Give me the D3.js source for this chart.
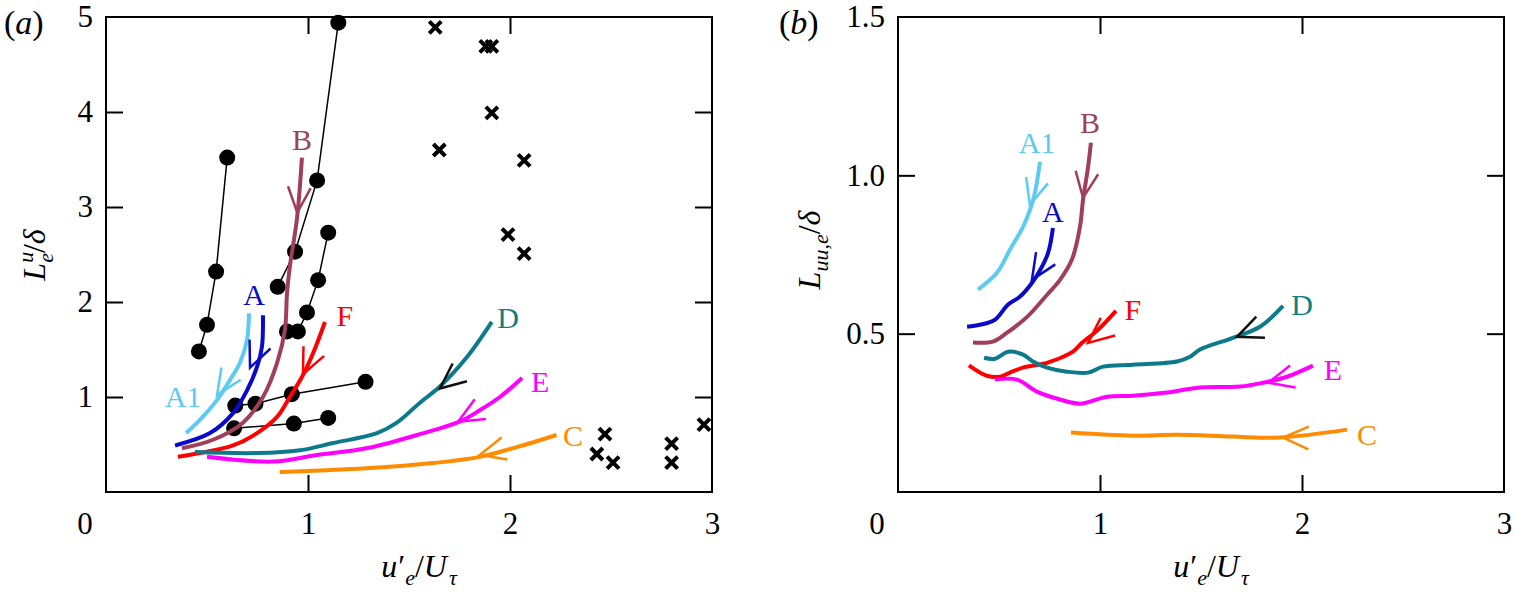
<!DOCTYPE html>
<html>
<head>
<meta charset="utf-8">
<script src="https://cdn.jsdelivr.net/npm/d3@7"></script>
<style>
  body { margin: 0; background: #fff; }
  svg text { font-family: "Liberation Serif", "Times New Roman", serif; }
</style>
</head>
<body>
<div id="chart"></div>
<script>
// ---- data ----
const xTickLabels = [1, 2, 3];
const xTickMarks = [1, 2];
const yTickLabelsA = [1, 2, 3, 4, 5];
const yTickMarksA = [1, 2, 3, 4];
const yTickLabelsB = [0.5, 1.0, 1.5];
const yTickMarksB = [0.5, 1.0];

// panel (a): black dots joined by thin lines
const dotsA1 = [[0.46, 1.48], [0.50, 1.76], [0.545, 2.32], [0.60, 3.52]];
const dotsA2 = [[0.85, 2.16], [0.936, 2.53], [1.045, 3.28], [1.15, 4.94]];
const dotsA3 = [[0.896, 1.69], [0.95, 1.69], [0.995, 1.89], [1.05, 2.23], [1.10, 2.73]];
const dotsA4 = [[0.64, 0.91], [0.74, 0.93], [0.92, 1.03], [1.285, 1.16]];
const dotsA5 = [[0.634, 0.67], [0.93, 0.72], [1.10, 0.78]];

// panel (a): crosses
const crossesA = [[1.63, 4.89], [1.88, 4.69], [1.91, 4.69], [1.91, 3.99], [1.65, 3.60],
  [2.07, 3.49], [1.99, 2.71], [2.07, 2.51], [2.43, 0.40], [2.47, 0.61], [2.51, 0.31],
  [2.80, 0.51], [2.80, 0.31], [2.96, 0.71]];

// panel (a) curves (ordered from start to end, i.e. along the arrow)
const aA1 = [[0.708, 1.88], [0.698, 1.60], [0.663, 1.36], [0.614, 1.18], [0.55, 0.97], [0.465, 0.76], [0.396, 0.62]];
const aA = [[0.777, 1.86], [0.772, 1.53], [0.748, 1.32], [0.698, 1.07], [0.629, 0.83], [0.515, 0.62], [0.342, 0.49]];
const aB = [[0.97, 3.52], [0.946, 2.89], [0.91, 2.37], [0.896, 2.09], [0.886, 1.71], [0.847, 1.36], [0.777, 1.00], [0.678, 0.73], [0.53, 0.55], [0.376, 0.46]];
const aF = [[1.084, 1.79], [1.025, 1.46], [0.97, 1.21], [0.91, 1.0], [0.847, 0.79], [0.748, 0.62], [0.629, 0.49], [0.465, 0.41], [0.356, 0.37]];
const aD = [[1.91, 1.79], [1.787, 1.42], [1.653, 1.11], [1.554, 0.94], [1.44, 0.73], [1.342, 0.62], [1.124, 0.515], [0.96, 0.44], [0.748, 0.41], [0.44, 0.42]];
const aE = [[2.06, 1.20], [1.95, 1.0], [1.85, 0.86], [1.75, 0.74], [1.54, 0.60], [1.29, 0.46], [1.045, 0.39], [0.827, 0.32], [0.50, 0.37]];
const aC = [[2.23, 0.60], [2.03, 0.47], [1.85, 0.37], [1.62, 0.305], [1.29, 0.25], [0.86, 0.21]];

// panel (b) curves
const bA1 = [[0.703, 1.043], [0.678, 0.945], [0.653, 0.89], [0.619, 0.837], [0.554, 0.765], [0.49, 0.692], [0.396, 0.639]];
const bA = [[0.767, 0.834], [0.743, 0.755], [0.703, 0.70], [0.663, 0.66], [0.604, 0.617], [0.545, 0.592], [0.48, 0.544], [0.406, 0.528], [0.342, 0.522]];
const bB = [[0.955, 1.103], [0.941, 1.027], [0.916, 0.923], [0.901, 0.838], [0.861, 0.734], [0.802, 0.67], [0.738, 0.623], [0.639, 0.553], [0.54, 0.503], [0.47, 0.475], [0.371, 0.472]];
const bF = [[1.079, 0.572], [0.99, 0.512], [0.911, 0.471], [0.866, 0.443], [0.817, 0.427], [0.738, 0.408], [0.619, 0.393], [0.554, 0.377], [0.505, 0.364], [0.44, 0.367], [0.351, 0.40]];
const bD = [[1.906, 0.588], [1.792, 0.522], [1.658, 0.487], [1.495, 0.45], [1.446, 0.427], [1.381, 0.412], [1.163, 0.402], [1.015, 0.396], [0.941, 0.377], [0.837, 0.38], [0.738, 0.393], [0.668, 0.412], [0.619, 0.434], [0.545, 0.443], [0.48, 0.421], [0.426, 0.424]];
const bE = [[2.054, 0.399], [1.926, 0.364], [1.807, 0.345], [1.693, 0.333], [1.495, 0.33], [1.332, 0.314], [1.163, 0.304], [1.035, 0.301], [0.901, 0.279], [0.802, 0.292], [0.688, 0.317], [0.589, 0.355], [0.48, 0.355]];
const bC = [[2.223, 0.197], [1.891, 0.172], [1.658, 0.175], [1.381, 0.181], [1.163, 0.178], [0.856, 0.188]];

// series names, arrow tips and label anchors (data units)
const names = ["A1", "A", "B", "F", "D", "E", "C"];
const arrowsA = [[0.55, 1.02], [0.713, 1.31], [0.947, 2.94], [0.975, 1.24], [1.653, 1.09], [1.743, 0.74], [1.85, 0.39]];
const labelsA = [[0.381, 1.01], [0.733, 2.08], [0.97, 3.71], [1.183, 1.86], [1.99, 1.84], [2.149, 1.16], [2.312, 0.59]];
const arrowsB = [[0.653, 0.907], [0.663, 0.67], [0.916, 0.929], [0.941, 0.471], [1.678, 0.49], [1.832, 0.345], [1.906, 0.172]];
const labelsB = [[0.688, 1.103], [0.767, 0.885], [0.95, 1.166], [1.163, 0.576], [2.0, 0.591], [2.153, 0.386], [2.322, 0.181]];

// ---- styles ----
const colors = { A1: "#5ccbf3", A: "#0a0acc", B: "#a03f5a", F: "#ff0000", D: "#0b7a8a", E: "#ff00ff", C: "#ff8c00" };
const arrowColors = { D: "#111" };
const labelColors = { D: "#0c7f80" };

const W = 1514, H = 603;
const svg = d3.select("#chart").append("svg")
  .attr("width", W).attr("height", H)
  .attr("viewBox", `0 0 ${W} ${H}`);
svg.append("rect").attr("width", W).attr("height", H).attr("fill", "#fff");

const TICK = 17;

function drawPanel(cfg) {
  const x = d3.scaleLinear().domain([0, 3]).range([cfg.left, cfg.right]);
  const y = d3.scaleLinear().domain(cfg.yDomain).range([cfg.bottom, cfg.top]);
  const g = svg.append("g");

  const line = d3.line().x(d => x(d[0])).y(d => y(d[1])).curve(d3.curveCatmullRom.alpha(0.5));

  // inward tick marks on all four sides
  const strip = sel => sel.call(s => s.select(".domain").remove()).selectAll("line").attr("stroke", "#000").attr("stroke-width", 2);
  g.append("g").attr("transform", `translate(0,${cfg.bottom})`)
    .call(d3.axisBottom(x).tickValues(xTickMarks).tickSize(-TICK).tickFormat("")).call(strip);
  g.append("g").attr("transform", `translate(0,${cfg.top})`)
    .call(d3.axisTop(x).tickValues(xTickMarks).tickSize(-TICK).tickFormat("")).call(strip);
  g.append("g").attr("transform", `translate(${cfg.left},0)`)
    .call(d3.axisLeft(y).tickValues(cfg.yMarks).tickSize(-TICK).tickFormat("")).call(strip);
  g.append("g").attr("transform", `translate(${cfg.right},0)`)
    .call(d3.axisRight(y).tickValues(cfg.yMarks).tickSize(-TICK).tickFormat("")).call(strip);

  // tick labels
  const xl = g.append("g").attr("transform", `translate(0,${cfg.bottom})`)
    .call(d3.axisBottom(x).tickValues(xTickLabels).tickSize(0).tickPadding(20).tickFormat(d3.format("d")));
  xl.select(".domain").remove();
  xl.selectAll("text").attr("font-size", 31).attr("fill", "#000");
  g.append("text").attr("x", x(0) - 21).attr("y", cfg.bottom + 20).attr("dy", "0.71em")
    .attr("text-anchor", "middle").attr("font-size", 31).text("0");

  const yl = g.append("g").attr("transform", `translate(${cfg.left},0)`)
    .call(d3.axisLeft(y).tickValues(cfg.yLabels).tickSize(0).tickPadding(cfg.yPad).tickFormat(cfg.yFormat));
  yl.select(".domain").remove();
  yl.selectAll("text").attr("font-size", 31).attr("fill", "#000");

  // frame
  g.append("rect").attr("x", cfg.left).attr("y", cfg.top)
    .attr("width", cfg.right - cfg.left).attr("height", cfg.bottom - cfg.top)
    .attr("fill", "none").attr("stroke", "#000").attr("stroke-width", 2);

  // black dot series and crosses
  (cfg.dots || []).forEach(s => {
    g.append("path").datum(s).attr("d", d3.line().x(d => x(d[0])).y(d => y(d[1])))
      .attr("fill", "none").attr("stroke", "#000").attr("stroke-width", 1.5);
    g.selectAll(null).data(s).join("circle")
      .attr("cx", d => x(d[0])).attr("cy", d => y(d[1])).attr("r", 8).attr("fill", "#000");
  });
  if (cfg.crosses) {
    const c = 6;
    g.selectAll(null).data(cfg.crosses).join("path")
      .attr("d", d => {
        const px = x(d[0]), py = y(d[1]);
        return `M${px - c},${py - c}L${px + c},${py + c}M${px - c},${py + c}L${px + c},${py - c}`;
      })
      .attr("stroke", "#000").attr("stroke-width", 4);
  }

  // coloured curves with arrows and labels
  cfg.curves.forEach((pts, i) => {
    const name = names[i];
    const col = colors[name];
    g.append("path").datum(pts).attr("d", line)
      .attr("fill", "none").attr("stroke", col).attr("stroke-width", 4)
      .attr("stroke-linecap", "butt").attr("stroke-linejoin", "round");

    // arrow: open chevron at the tip, pointing along the direction of travel
    const tip = cfg.arrows[i];
    const tx = x(tip[0]), ty = y(tip[1]);
    const px = pts.map(d => [x(d[0]), y(d[1])]);
    let best = 0, bestD = Infinity;
    for (let k = 0; k < px.length - 1; k++) {
      const mx = (px[k][0] + px[k + 1][0]) / 2, my = (px[k][1] + px[k + 1][1]) / 2;
      const dd = (mx - tx) ** 2 + (my - ty) ** 2;
      if (dd < bestD) { bestD = dd; best = k; }
    }
    const ang = Math.atan2(px[best][1] - px[best + 1][1], px[best][0] - px[best + 1][0]);
    const L = 28, spread = 24 * Math.PI / 180;
    const arms = [ang - spread, ang + spread].map(a => [tx + L * Math.cos(a), ty + L * Math.sin(a)]);
    g.append("path")
      .attr("d", `M${arms[0][0]},${arms[0][1]}L${tx},${ty}L${arms[1][0]},${arms[1][1]}`)
      .attr("fill", "none").attr("stroke", arrowColors[name] || col).attr("stroke-width", 2.5)
      .attr("stroke-linejoin", "miter");

    const lb = cfg.labels[i];
    g.append("text").attr("x", x(lb[0])).attr("y", y(lb[1])).attr("dy", "0.35em")
      .attr("text-anchor", "middle").attr("font-size", 30)
      .attr("fill", labelColors[name] || col).text(name);
  });

  // x-axis title u'_e / U_tau
  const xt = g.append("text").attr("x", (cfg.left + cfg.right) / 2 + 10).attr("y", 577)
    .attr("text-anchor", "middle").attr("font-size", 32);
  xt.append("tspan").attr("font-style", "italic").text("u");
  xt.append("tspan").attr("dx", 1).text("\u2032");
  xt.append("tspan").attr("font-style", "italic").attr("font-size", 22).attr("dy", 8).text("e");
  xt.append("tspan").attr("dy", -8).text("/");
  xt.append("tspan").attr("font-style", "italic").text("U");
  xt.append("tspan").attr("font-style", "italic").attr("font-size", 22).attr("dx", 2).attr("dy", 8).text("\u03c4");

  // panel letter
  const pl = g.append("text").attr("x", cfg.letterX).attr("y", 34).attr("font-size", 34);
  pl.append("tspan").text("(");
  pl.append("tspan").attr("font-style", "italic").text(cfg.letter);
  pl.append("tspan").text(")");

  return { x, y, g };
}

drawPanel({
  left: 106, right: 712, top: 17, bottom: 492,
  yDomain: [0, 5], yMarks: yTickMarksA, yLabels: yTickLabelsA, yPad: 13, yFormat: d3.format("d"),
  dots: [dotsA1, dotsA2, dotsA3, dotsA4, dotsA5], crosses: crossesA,
  curves: [aA1, aA, aB, aF, aD, aE, aC], arrows: arrowsA, labels: labelsA,
  letter: "a", letterX: 4
});

drawPanel({
  left: 898, right: 1504, top: 17, bottom: 492,
  yDomain: [0, 1.5], yMarks: yTickMarksB, yLabels: yTickLabelsB, yPad: 13, yFormat: d3.format(".1f"),
  curves: [bA1, bA, bB, bF, bD, bE, bC], arrows: arrowsB, labels: labelsB,
  letter: "b", letterX: 779
});

// y-axis titles
const ya = svg.append("text").attr("transform", "translate(45,255) rotate(-90)")
  .attr("text-anchor", "middle").attr("font-size", 32);
ya.append("tspan").attr("font-style", "italic").text("L");
ya.append("tspan").attr("font-style", "italic").attr("font-size", 22).attr("dy", -12).text("u");
ya.append("tspan").attr("font-style", "italic").attr("font-size", 22).attr("dx", -11).attr("dy", 20).text("e");
ya.append("tspan").attr("dy", -8).text("/");
ya.append("tspan").attr("font-style", "italic").text("\u03b4");

const yb = svg.append("text").attr("transform", "translate(820,250) rotate(-90)")
  .attr("text-anchor", "middle").attr("font-size", 32);
yb.append("tspan").attr("font-style", "italic").text("L");
yb.append("tspan").attr("font-style", "italic").attr("font-size", 22).attr("dy", 8).text("uu,e");
yb.append("tspan").attr("dy", -8).text("/");
yb.append("tspan").attr("font-style", "italic").text("\u03b4");
</script>
</body>
</html>
